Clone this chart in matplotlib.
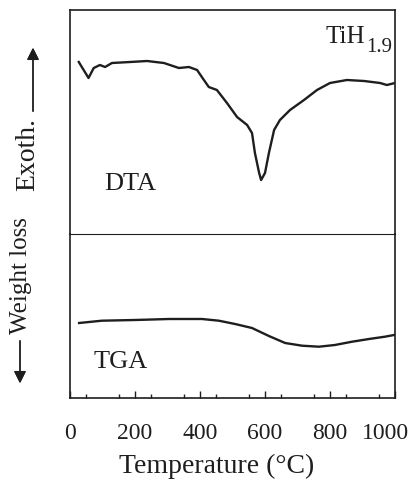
import matplotlib.pyplot as plt
from matplotlib.transforms import ScaledTranslation

# ======================
# data (arbitrary signal units)
# ======================
dta_temp = [27, 57, 73, 92, 108, 129, 185, 237, 289, 335, 366, 391, 412, 427,
            452, 483, 514, 545, 560, 569, 582, 588, 600, 612, 628, 646, 677,
            720, 760, 800, 852, 905, 954, 975, 1000]
dta_signal = [172, 156, 166, 169, 167, 171, 172, 173, 171, 166, 167, 164, 154,
              147, 144, 131, 117, 109, 101, 81, 61, 54, 61, 81, 104, 114, 124,
              134, 144, 151, 154, 153, 151, 149, 151]

tga_temp = [28, 98, 200, 305, 406, 458, 508, 560, 612, 662, 714, 766, 815,
            868, 920, 969, 997]
tga_signal = [75, 77.3, 78, 79, 79, 77.3, 74, 70, 62, 55, 52.3, 51.3, 53,
              56.3, 59, 61.3, 63]

tick_values = [0, 200, 400, 600, 800, 1000]
tick_labels = ["0", "200", "400", "600", "800", "1000"]

plt.rcParams['font.family'] = ['Liberation Serif', 'DejaVu Serif']

W, H = 416, 486
fig = plt.figure(figsize=(W / 100, H / 100), dpi=100)


def fx(px):
    return px / W


def fy(py):
    return 1 - py / H


left, right = 70, 395
top, mid, bottom = 10, 234, 398
ink = "#1e1e1e"

ax1 = fig.add_axes([fx(left), fy(mid), fx(right - left), (mid - top) / H])
ax2 = fig.add_axes([fx(left), fy(bottom), fx(right - left), (bottom - mid) / H])

# ======================
# DTA panel
# ======================
ax1.plot(dta_temp, dta_signal, color=ink, lw=1.7)
ax1.set_xlim(0, 1000)
ax1.set_ylim(0, mid - top)
ax1.set_xticks([])
ax1.set_yticks([])
for s in ["left", "right", "top"]:
    ax1.spines[s].set_linewidth(1.2)
    ax1.spines[s].set_color(ink)
ax1.spines["bottom"].set_visible(False)

ax1.text(105, 44, "DTA", fontsize=19, color=ink)
fig.text(fx(325), fy(43), "TiH", fontsize=18, color=ink, va="baseline")
fig.text(fx(366), fy(52), "1.9", fontsize=15, color=ink, va="baseline")

# ======================
# TGA panel
# ======================
ax2.plot(tga_temp, tga_signal, color=ink, lw=1.7)
ax2.set_xlim(0, 1000)
ax2.set_ylim(0, bottom - mid)
ax2.set_yticks([])
ax2.spines["top"].set_linewidth(0.8)
ax2.spines["top"].set_color(ink)
for s in ["left", "right", "bottom"]:
    ax2.spines[s].set_linewidth(1.2)
    ax2.spines[s].set_color(ink)

ax2.set_xticks(tick_values)
ax2.set_xticklabels(tick_labels)
ax2.set_xticks(range(50, 1000, 100), minor=True)
ax2.tick_params(axis="x", which="major", direction="in", length=5, width=1,
                pad=18, labelsize=17, colors=ink)
ax2.tick_params(axis="x", which="minor", direction="in", length=3, width=1,
                colors=ink)
last = ax2.get_xticklabels()[-1]
last.set_transform(last.get_transform() + ScaledTranslation(-10 / 100, 0, fig.dpi_scale_trans))

ax2.text(71, 30, "TGA", fontsize=19, color=ink)

ax2.set_xlabel("Temperature (°C)", fontsize=20, color=ink, va="top")
ax2.xaxis.set_label_coords((217 - left) / (right - left), -(454 - bottom) / (bottom - mid))

# ======================
# side labels with arrows
# ======================
fig.text(fx(28), fy(118), "Exoth.", fontsize=20, color=ink, rotation=90,
         ha="center", va="top")
fig.add_artist(plt.annotate("", xy=(fx(33), fy(45)), xytext=(fx(33), fy(114)),
                            xycoords="figure fraction", textcoords="figure fraction",
                            arrowprops=dict(arrowstyle="-|>", color=ink, lw=1.0,
                                            mutation_scale=18)))

fig.text(fx(21), fy(217), "Weight loss", fontsize=18, color=ink, rotation=90,
         ha="center", va="top")
fig.add_artist(plt.annotate("", xy=(fx(20), fy(386)), xytext=(fx(20), fy(338)),
                            xycoords="figure fraction", textcoords="figure fraction",
                            arrowprops=dict(arrowstyle="-|>", color=ink, lw=1.0,
                                            mutation_scale=18)))

plt.savefig("out.png", dpi=100)
